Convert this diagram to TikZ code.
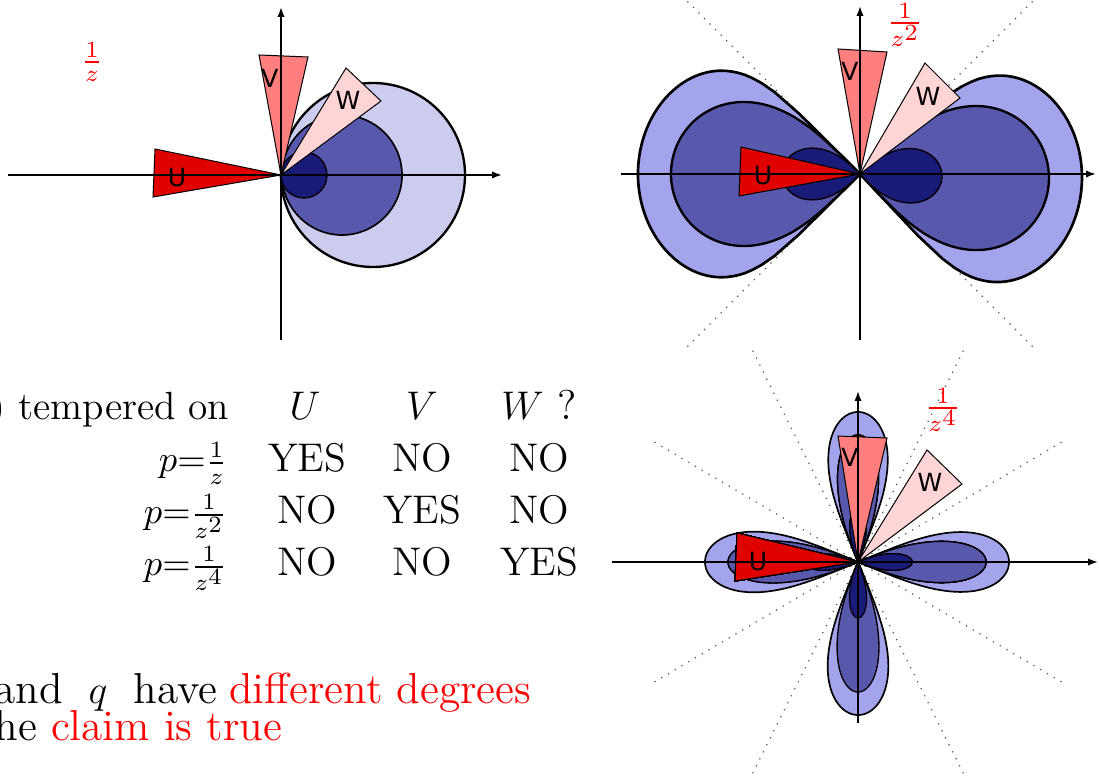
\documentclass[tikz,border=0pt]{standalone}
\usepackage{amsmath}
\usepackage{fontspec}
\usepackage{xcolor}
\usepackage{tikz}
\usetikzlibrary{arrows.meta}
\newfontfamily\sectfont{DejaVu Sans}
\definecolor{lobelight}{HTML}{CCCCEE}
\definecolor{lobepale}{HTML}{A3A4EB}
\definecolor{lobemid}{HTML}{5858AC}
\definecolor{lobedark}{HTML}{1A1A78}
\definecolor{secU}{HTML}{E00000}
\definecolor{secV}{HTML}{FF7E7E}
\definecolor{secW}{HTML}{FFD4D4}
% #1 style, #2 direction, #3 length, #4 exponent, #5 half opening
\newcommand{\petal}[5]{%
  \draw[#1, rotate=#2] (0,0) -- plot[domain=-0.995:0.995, samples=90]
    ({#5*\x}:{#3*abs(cos(90*\x))^#4}) -- cycle;}

\begin{document}
\begin{tikzpicture}[
  x=0.3pt, y=0.3pt,
  axis/.style={line width=0.5pt, -{Latex[length=3pt,width=2.2pt]}},
  ray/.style={dotted, line width=0.35pt, black!70},
  sector/.style={draw, line width=0.3pt},
  seclabel/.style={font=\sectfont\fontsize{7.5}{8}\selectfont, inner sep=0pt},
  redfrac/.style={text=red, font=\fontsize{10}{12}\selectfont, inner sep=0pt},
  body/.style={font=\fontsize{13}{15}\selectfont, inner sep=0pt},
  headtxt/.style={font=\fontsize{11.8}{14}\selectfont, inner sep=0pt},
  cell/.style={font=\fontsize{12}{14}\selectfont, inner sep=0pt, anchor=base},
  plab/.style={font=\fontsize{10.5}{12}\selectfont, inner sep=0pt, anchor=base east}]

\useasboundingbox (0,0) rectangle (1099,778);
\clip (0,0) rectangle (1099,778);

% p = 1/z : discs
\begin{scope}[shift={(281,603)}]
  \coordinate (o1) at (0,0);
  \coordinate (x1a) at (-273,0);
  \coordinate (x1b) at (221,0);
  \coordinate (y1a) at (0,-165);
  \coordinate (y1b) at (0,168);
  \draw[fill=lobelight, line width=0.7pt] (92,0) circle (92);
  \draw[fill=lobemid, line width=0.5pt] (61,0) circle (60);
  \draw[fill=lobedark, line width=0.4pt] (23,0) circle (23);
  \draw[sector, fill=secU] (o1) -- (-126,26) -- (-128,-22) -- cycle;
  \draw[sector, fill=secV] (o1) -- (-22,120) -- (27,118) -- cycle;
  \draw[sector, fill=secW] (o1) -- (65,107) -- (100,74) -- cycle;
  \draw[axis] (x1a) -- (x1b);
  \draw[axis] (y1a) -- (y1b);
  \node[seclabel] (u1) at (-104,-3) {U};
  \node[seclabel] (v1) at (-11,97) {V};
  \node[seclabel] (w1) at (67,75) {W};
  \node[redfrac] (f1) at (-189,113) {$\frac{1}{z}$};
\end{scope}

% p = 1/z^2 : two lobes
\begin{scope}[shift={(860,604)}]
  \coordinate (o2) at (0,0);
  \coordinate (x2a) at (-239,0);
  \coordinate (x2b) at (236,0);
  \coordinate (y2a) at (0,-166);
  \coordinate (y2b) at (0,168);
  \foreach \a in {45,135,225,315}
    \draw[ray] (o2) -- (\a:250);
  \petal{fill=lobepale, line width=0.8pt}{-2}{222}{0.2}{45}
  \petal{fill=lobepale, line width=0.8pt}{180}{222}{0.2}{45}
  \petal{fill=lobemid, line width=0.7pt}{-2}{189}{0.4}{45}
  \petal{fill=lobemid, line width=0.7pt}{180}{189}{0.4}{45}
  \petal{fill=lobedark, line width=0.4pt}{-2}{82}{0.6}{45}
  \petal{fill=lobedark, line width=0.4pt}{180}{78}{0.6}{45}
  \draw[sector, fill=secU] (o2) -- (-119,27) -- (-121,-22) -- cycle;
  \draw[sector, fill=secV] (o2) -- (-22,125) -- (27,122) -- cycle;
  \draw[sector, fill=secW] (o2) -- (65,111) -- (100,76) -- cycle;
  \draw[axis] (x2a) -- (x2b);
  \draw[axis] (y2a) -- (y2b);
  \node[seclabel] (u2) at (-97,-2) {U};
  \node[seclabel] (v2) at (-10,103) {V};
  \node[seclabel] (w2) at (68,78) {W};
  \node[redfrac] (f2) at (45,149) {$\frac{1}{z^{\scriptstyle 2}}$};
\end{scope}

% p = 1/z^4 : four lobes
\begin{scope}[shift={(858,216)}]
  \coordinate (o3) at (0,0);
  \coordinate (x3a) at (-246,0);
  \coordinate (x3b) at (240,0);
  \coordinate (y3a) at (0,-161);
  \coordinate (y3b) at (0,171);
  \foreach \a in {30.5,63.5,116.5,149.5,210.5,243.5,296.5,329.5}
    \draw[ray] (o3) -- (\a:242);
  \foreach \d/\len in {0/151,90/150,180/153,270/153}
    \petal{fill=lobepale, line width=0.5pt}{\d}{\len}{0.4}{22.5}
  \foreach \d/\len in {0/128,90/127,180/130,270/130}
    \petal{fill=lobemid, line width=0.4pt}{\d}{\len}{0.7}{22.5}
  \foreach \d/\len in {0/54,90/54,180/54,270/56}
    \petal{fill=lobedark, line width=0.35pt}{\d}{\len}{0.8}{22.5}
  \draw[sector, fill=secU] (o3) -- (-121,29) -- (-123,-19) -- cycle;
  \draw[sector, fill=secV] (o3) -- (-20,126) -- (29,124) -- cycle;
  \draw[sector, fill=secW] (o3) -- (69,112) -- (104,78) -- cycle;
  \draw[axis] (x3a) -- (x3b);
  \draw[axis] (y3a) -- (y3b);
  \node[seclabel] (u3) at (-100,0) {U};
  \node[seclabel] (v3) at (-8,105) {V};
  \node[seclabel] (w3) at (72,80) {W};
  \node[redfrac] (f3) at (85,152) {$\frac{1}{z^{\scriptstyle 4}}$};
\end{scope}

% table
\node[headtxt, anchor=base east] (head) at (230,358) {) tempered on};
\node[cell, font=\fontsize{12.5}{15}\selectfont] (hu) at (305,358) {$U$};
\node[cell, font=\fontsize{12.5}{15}\selectfont] (hv) at (422,358) {$V$};
\node[cell, font=\fontsize{12.5}{15}\selectfont] (hw) at (539,358) {$W$ ?};
\foreach \r/\yy/\pw/\a/\b/\c in {1/306/{}/YES/NO/NO, 2/254/{^{\scriptstyle 2}}/NO/YES/NO, 3/202/{^{\scriptstyle 4}}/NO/NO/YES}{
  \node[plab] (p\r) at (228,\yy) {$p{=}\frac{1}{z\pw}$};
  \node[cell] (a\r) at (307,\yy) {\a};
  \node[cell] (b\r) at (422,\yy) {\b};
  \node[cell] (c\r) at (539,\yy) {\c};
}

% conclusion
\node[body, anchor=base east] (concl) at (532,75)
  {and\hspace{0.6em}$q$\hspace{0.6em}have\hspace{0.28em}\textcolor{red}{different degrees}};
\node[body, anchor=base east] (claim) at (283,38)
  {he \textcolor{red}{claim is true}};
\end{tikzpicture}
\end{document}
